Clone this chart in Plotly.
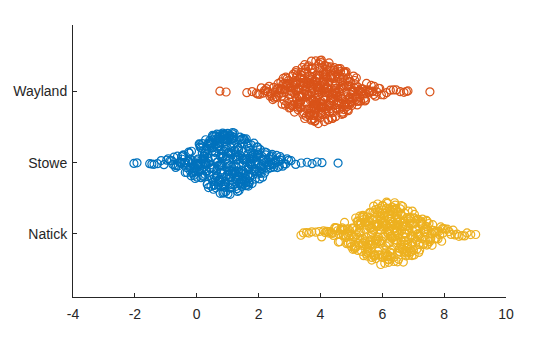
import numpy as np
import plotly.graph_objects as go

categories = ["Natick", "Stowe", "Wayland"]
colors = ["#EDB120", "#0072BD", "#D95319"]

natick = [
    3.37, 3.45, 3.55, 3.63, 3.72, 3.85, 3.96,
    4.04, 4.1, 4.15, 4.2, 4.24,
    4.27, 4.31, 4.35, 4.39, 4.42, 4.46, 4.49,
    4.52, 4.55, 4.58, 4.6, 4.63, 4.65, 4.68, 4.7, 4.72, 4.74,
    4.75, 4.77, 4.78, 4.8, 4.82, 4.83, 4.85, 4.87, 4.88, 4.9, 4.92, 4.93, 4.95, 4.97, 4.98,
    5.0, 5.01, 5.02, 5.04, 5.05, 5.06, 5.07, 5.09, 5.1, 5.11, 5.12, 5.14, 5.15, 5.16, 5.17,
    5.19, 5.2, 5.21, 5.22, 5.24,
    5.25, 5.26, 5.27, 5.28, 5.29, 5.3, 5.31, 5.32, 5.33, 5.34, 5.35, 5.36, 5.37, 5.38, 5.39,
    5.4, 5.41, 5.42, 5.43, 5.44, 5.45, 5.46, 5.46, 5.47, 5.48, 5.49, 5.49,
    5.5, 5.51, 5.51, 5.52, 5.53, 5.54, 5.54, 5.55, 5.56, 5.57, 5.57, 5.58, 5.59, 5.6, 5.6,
    5.61, 5.62, 5.63, 5.63, 5.64, 5.65, 5.66, 5.66, 5.67, 5.68, 5.69, 5.69, 5.7, 5.71, 5.72,
    5.72, 5.73, 5.74,
    5.75, 5.75, 5.76, 5.77, 5.77, 5.78, 5.79, 5.79, 5.8, 5.81, 5.81, 5.82, 5.83, 5.83, 5.84,
    5.85, 5.85, 5.86, 5.87, 5.87, 5.88, 5.89, 5.89, 5.9, 5.91, 5.91, 5.92, 5.93, 5.93, 5.94,
    5.95, 5.95, 5.96, 5.97, 5.97, 5.98, 5.99, 5.99,
    6.0, 6.0, 6.01, 6.02, 6.02, 6.03, 6.04, 6.04, 6.05, 6.06, 6.06, 6.07, 6.08, 6.08, 6.09,
    6.1, 6.1, 6.11, 6.12, 6.12, 6.13, 6.14, 6.14, 6.15, 6.16, 6.16, 6.17, 6.18, 6.18, 6.19,
    6.2, 6.2, 6.21, 6.21, 6.22, 6.22, 6.23, 6.23, 6.24, 6.24, 6.24,
    6.25, 6.25, 6.26, 6.26, 6.27, 6.27, 6.28, 6.28, 6.29, 6.3, 6.3, 6.31, 6.32, 6.32, 6.33,
    6.34, 6.34, 6.35, 6.36, 6.36, 6.37, 6.38, 6.38, 6.39, 6.4, 6.4, 6.41, 6.42, 6.42, 6.43,
    6.44, 6.44, 6.45, 6.46, 6.46, 6.47, 6.48, 6.48, 6.49, 6.49,
    6.5, 6.5, 6.51, 6.52, 6.53, 6.53, 6.54, 6.55, 6.56, 6.56, 6.57, 6.58, 6.59, 6.59, 6.6,
    6.61, 6.62, 6.62, 6.63, 6.64, 6.65, 6.65, 6.66, 6.67, 6.68, 6.68, 6.69, 6.7, 6.71, 6.71,
    6.72, 6.73, 6.73, 6.74, 6.74, 6.74,
    6.75, 6.76, 6.77, 6.78, 6.78, 6.79, 6.8, 6.81, 6.82, 6.82, 6.83, 6.84, 6.85, 6.86, 6.86,
    6.87, 6.88, 6.89, 6.9, 6.9, 6.91, 6.92, 6.93, 6.94, 6.94, 6.95, 6.96, 6.97, 6.98, 6.99,
    7.0, 7.01, 7.02, 7.03, 7.04, 7.05, 7.06, 7.07, 7.08, 7.09, 7.1, 7.11, 7.12, 7.13, 7.14,
    7.15, 7.16, 7.17, 7.18, 7.19, 7.2, 7.21, 7.23, 7.24,
    7.26, 7.27, 7.29, 7.3, 7.32, 7.33, 7.35, 7.36, 7.38, 7.39, 7.41, 7.42, 7.43, 7.44, 7.45,
    7.46, 7.47, 7.49,
    7.51, 7.53, 7.55, 7.57, 7.59, 7.61, 7.63, 7.65, 7.67, 7.69, 7.71, 7.72, 7.74,
    7.77, 7.8, 7.83, 7.86, 7.89, 7.92, 7.94, 7.96, 7.98,
    8.03, 8.1, 8.16, 8.22, 8.29, 8.35, 8.42, 8.48,
    8.58, 8.66, 8.74, 8.86, 9.02,
]

stowe = [
    -2.03, -1.93, -1.52, -1.45, -1.38, -1.27, -1.15, -1.06,
    -0.97, -0.92, -0.86, -0.81, -0.77,
    -0.74, -0.71, -0.68, -0.65, -0.62, -0.59, -0.56, -0.53, -0.51,
    -0.49, -0.47, -0.45, -0.43, -0.41, -0.39, -0.37, -0.35, -0.33, -0.31, -0.29, -0.27, -0.26,
    -0.25, -0.24, -0.22, -0.21, -0.2, -0.18, -0.17, -0.16, -0.14, -0.13, -0.12, -0.1, -0.09,
    -0.08, -0.06, -0.05, -0.04, -0.02, -0.01,
    0.0, 0.01, 0.02, 0.03, 0.04, 0.05, 0.06, 0.07, 0.08, 0.09, 0.1, 0.11, 0.12, 0.13, 0.14,
    0.15, 0.16, 0.17, 0.18, 0.19, 0.2, 0.21, 0.21, 0.22, 0.23, 0.24, 0.24,
    0.25, 0.26, 0.26, 0.27, 0.28, 0.29, 0.29, 0.3, 0.31, 0.32, 0.32, 0.33, 0.34, 0.35, 0.35,
    0.36, 0.37, 0.38, 0.38, 0.39, 0.4, 0.41, 0.41, 0.42, 0.43, 0.44, 0.44, 0.45, 0.46, 0.47,
    0.47, 0.48, 0.49, 0.49,
    0.5, 0.5, 0.51, 0.52, 0.52, 0.53, 0.54, 0.54, 0.55, 0.56, 0.56, 0.57, 0.58, 0.58, 0.59,
    0.6, 0.6, 0.61, 0.62, 0.62, 0.63, 0.64, 0.64, 0.65, 0.66, 0.66, 0.67, 0.68, 0.68, 0.69,
    0.7, 0.7, 0.71, 0.71, 0.72, 0.72, 0.73, 0.73, 0.74, 0.74, 0.74,
    0.75, 0.75, 0.76, 0.76, 0.77, 0.77, 0.78, 0.78, 0.79, 0.79, 0.8, 0.8, 0.81, 0.81, 0.82,
    0.82, 0.83, 0.83, 0.84, 0.84, 0.85, 0.85, 0.86, 0.86, 0.87, 0.87, 0.88, 0.88, 0.89, 0.89,
    0.9, 0.9, 0.91, 0.91, 0.92, 0.92, 0.93, 0.93, 0.94, 0.94, 0.95, 0.96, 0.96, 0.97, 0.98,
    0.99,
    1.0, 1.0, 1.01, 1.01, 1.02, 1.02, 1.03, 1.03, 1.04, 1.04, 1.05, 1.05, 1.06, 1.06, 1.07,
    1.07, 1.08, 1.08, 1.09, 1.09, 1.1, 1.1, 1.11, 1.11, 1.12, 1.12, 1.13, 1.13, 1.14, 1.14,
    1.15, 1.15, 1.16, 1.16, 1.17, 1.17, 1.18, 1.18, 1.19, 1.19, 1.2, 1.21, 1.21, 1.22, 1.23,
    1.24,
    1.25, 1.25, 1.26, 1.27, 1.27, 1.28, 1.29, 1.29, 1.3, 1.31, 1.31, 1.32, 1.33, 1.33, 1.34,
    1.35, 1.35, 1.36, 1.37, 1.37, 1.38, 1.39, 1.39, 1.4, 1.41, 1.41, 1.42, 1.43, 1.43, 1.44,
    1.45, 1.45, 1.46, 1.46, 1.47, 1.47, 1.48, 1.48, 1.49, 1.49, 1.49,
    1.5, 1.51, 1.52, 1.52, 1.53, 1.54, 1.55, 1.55, 1.56, 1.57, 1.58, 1.58, 1.59, 1.6, 1.61,
    1.61, 1.62, 1.63, 1.64, 1.64, 1.65, 1.66, 1.67, 1.67, 1.68, 1.69, 1.7, 1.7, 1.71, 1.72,
    1.73, 1.73, 1.74, 1.74,
    1.75, 1.76, 1.77, 1.78, 1.79, 1.8, 1.81, 1.82, 1.83, 1.84, 1.85, 1.86, 1.87, 1.88, 1.89,
    1.9, 1.91, 1.92, 1.93, 1.94, 1.95, 1.96, 1.97, 1.97, 1.98, 1.99, 1.99,
    2.0, 2.01, 2.03, 2.04, 2.05, 2.07, 2.08, 2.09, 2.11, 2.12, 2.13, 2.15, 2.16, 2.17, 2.19,
    2.2, 2.21, 2.23, 2.24,
    2.26, 2.28, 2.3, 2.32, 2.34, 2.36, 2.38, 2.4, 2.42, 2.44, 2.46, 2.47, 2.49,
    2.52, 2.55, 2.58, 2.61, 2.64, 2.67, 2.7, 2.72, 2.74,
    2.78, 2.83, 2.88, 2.92, 2.97,
    3.05, 3.2, 3.38, 3.57, 3.73, 3.89, 4.05, 4.57,
]

wayland = [
    0.75, 0.95, 1.62, 1.79, 1.93, 1.98,
    2.04, 2.09, 2.14, 2.19, 2.23,
    2.26, 2.29, 2.31, 2.34, 2.37, 2.4, 2.43, 2.46, 2.49,
    2.51, 2.53, 2.55, 2.57, 2.59, 2.61, 2.63, 2.65, 2.67, 2.69, 2.71, 2.72, 2.74,
    2.75, 2.76, 2.78, 2.79, 2.8, 2.82, 2.83, 2.84, 2.86, 2.87, 2.88, 2.9, 2.91, 2.92, 2.94,
    2.95, 2.96, 2.98, 2.99,
    3.0, 3.01, 3.02, 3.03, 3.04, 3.05, 3.06, 3.07, 3.08, 3.09, 3.1, 3.11, 3.12, 3.13, 3.14,
    3.15, 3.16, 3.17, 3.18, 3.19, 3.2, 3.21, 3.22, 3.22, 3.23, 3.24, 3.24,
    3.25, 3.26, 3.27, 3.28, 3.28, 3.29, 3.3, 3.31, 3.31, 3.32, 3.33, 3.34, 3.34, 3.35, 3.36,
    3.37, 3.37, 3.38, 3.39, 3.4, 3.4, 3.41, 3.42, 3.43, 3.43, 3.44, 3.45, 3.46, 3.46, 3.47,
    3.48, 3.49, 3.49, 3.49,
    3.5, 3.5, 3.51, 3.52, 3.52, 3.53, 3.54, 3.54, 3.55, 3.56, 3.56, 3.57, 3.58, 3.58, 3.59,
    3.6, 3.6, 3.61, 3.62, 3.62, 3.63, 3.64, 3.64, 3.65, 3.66, 3.66, 3.67, 3.68, 3.68, 3.69,
    3.7, 3.7, 3.71, 3.71, 3.72, 3.72, 3.73, 3.73, 3.74, 3.74, 3.74,
    3.75, 3.75, 3.76, 3.76, 3.77, 3.77, 3.78, 3.78, 3.79, 3.79, 3.8, 3.8, 3.81, 3.81, 3.82,
    3.82, 3.83, 3.83, 3.84, 3.84, 3.85, 3.85, 3.86, 3.86, 3.87, 3.87, 3.88, 3.88, 3.89, 3.89,
    3.9, 3.9, 3.91, 3.91, 3.92, 3.92, 3.93, 3.93, 3.94, 3.94, 3.95, 3.96, 3.96, 3.97, 3.98,
    3.99,
    4.0, 4.0, 4.01, 4.01, 4.02, 4.02, 4.03, 4.03, 4.04, 4.04, 4.05, 4.05, 4.06, 4.06, 4.07,
    4.07, 4.08, 4.08, 4.09, 4.09, 4.1, 4.1, 4.11, 4.11, 4.12, 4.12, 4.13, 4.13, 4.14, 4.14,
    4.15, 4.15, 4.16, 4.16, 4.17, 4.17, 4.18, 4.18, 4.19, 4.19, 4.2, 4.21, 4.21, 4.22, 4.23,
    4.24,
    4.25, 4.25, 4.26, 4.27, 4.27, 4.28, 4.29, 4.29, 4.3, 4.31, 4.31, 4.32, 4.33, 4.33, 4.34,
    4.35, 4.35, 4.36, 4.37, 4.37, 4.38, 4.39, 4.39, 4.4, 4.41, 4.41, 4.42, 4.43, 4.43, 4.44,
    4.45, 4.45, 4.46, 4.46, 4.47, 4.47, 4.48, 4.48, 4.49, 4.49, 4.49,
    4.5, 4.51, 4.52, 4.52, 4.53, 4.54, 4.55, 4.55, 4.56, 4.57, 4.58, 4.58, 4.59, 4.6, 4.61,
    4.61, 4.62, 4.63, 4.64, 4.64, 4.65, 4.66, 4.67, 4.67, 4.68, 4.69, 4.7, 4.7, 4.71, 4.72,
    4.73, 4.73, 4.74, 4.74,
    4.75, 4.76, 4.77, 4.78, 4.79, 4.8, 4.81, 4.82, 4.83, 4.84, 4.85, 4.86, 4.87, 4.88, 4.89,
    4.9, 4.91, 4.92, 4.93, 4.94, 4.95, 4.96, 4.97, 4.97, 4.98, 4.99, 4.99,
    5.0, 5.01, 5.03, 5.04, 5.05, 5.07, 5.08, 5.09, 5.11, 5.12, 5.13, 5.15, 5.16, 5.17, 5.19,
    5.2, 5.21, 5.23, 5.24,
    5.26, 5.28, 5.3, 5.32, 5.34, 5.36, 5.38, 5.4, 5.42, 5.44, 5.46, 5.47, 5.49,
    5.52, 5.55, 5.58, 5.61, 5.64, 5.67, 5.7, 5.72, 5.74,
    5.78, 5.83, 5.88, 5.92, 5.97,
    6.05, 6.14, 6.26, 6.36, 6.45, 6.58, 6.7, 6.78, 6.83,
    7.54,
]

x_tick_values = [-4, -2, 0, 2, 4, 6, 8, 10]
x_tick_labels = ["-4", "-2", "0", "2", "4", "6", "8", "10"]

groups = [natick, stowe, wayland]

FONT = "Liberation Sans, Arial, sans-serif"
INK = "#262626"
JITTER_HALF = 0.45


def hash_unit(idx, seed):
    # deterministic integer hash (layout only) -> well-scattered numbers in [0, 1)
    v = (np.asarray(idx, dtype=np.uint64) * np.uint64(2654435761) + np.uint64(seed) * np.uint64(97531)) & np.uint64(0xFFFFFFFF)
    v = v ^ (v >> np.uint64(16))
    v = (v * np.uint64(0x45D9F3B)) & np.uint64(0xFFFFFFFF)
    v = v ^ (v >> np.uint64(16))
    v = (v * np.uint64(0x45D9F3B)) & np.uint64(0xFFFFFFFF)
    v = v ^ (v >> np.uint64(16))
    return v.astype(np.float64) / 4294967296.0


fig = go.Figure()
for k, (name, vals, col) in enumerate(zip(categories, groups, colors)):
    x = np.asarray(vals, dtype=float)
    n = len(x)
    h = 1.06 * x.std() * n ** (-0.2)
    dens = np.exp(-0.5 * ((x[:, None] - x[None, :]) / h) ** 2).sum(axis=1)
    w = JITTER_HALF * dens / dens.max()
    u = hash_unit(np.arange(n) + 11, 3 * k + 7)
    y = (k + 1) + w * (2.0 * u - 1.0)
    fig.add_trace(go.Scatter(
        x=x, y=y, mode="markers", name=name,
        marker=dict(symbol="circle-open", size=8, color=col,
                    line=dict(width=1.2, color=col)),
        showlegend=False, hoverinfo="skip",
    ))

axis_common = dict(
    showline=True, linecolor=INK, linewidth=1, mirror=False,
    ticks="inside", ticklen=4, tickcolor=INK, tickwidth=1,
    showgrid=False, zeroline=False,
    tickfont=dict(family=FONT, size=14, color=INK),
)

fig.update_layout(
    width=560, height=337,
    margin=dict(l=73, r=54, t=25, b=40, pad=0),
    paper_bgcolor="white", plot_bgcolor="white",
    xaxis=dict(range=[-4, 10], tickvals=x_tick_values, ticktext=x_tick_labels,
               ticklabelstandoff=4, **axis_common),
    yaxis=dict(range=[0.115, 3.935], tickvals=[1, 2, 3], ticktext=categories,
               ticklabelstandoff=2, **axis_common),
)

fig.write_html("out.html")
